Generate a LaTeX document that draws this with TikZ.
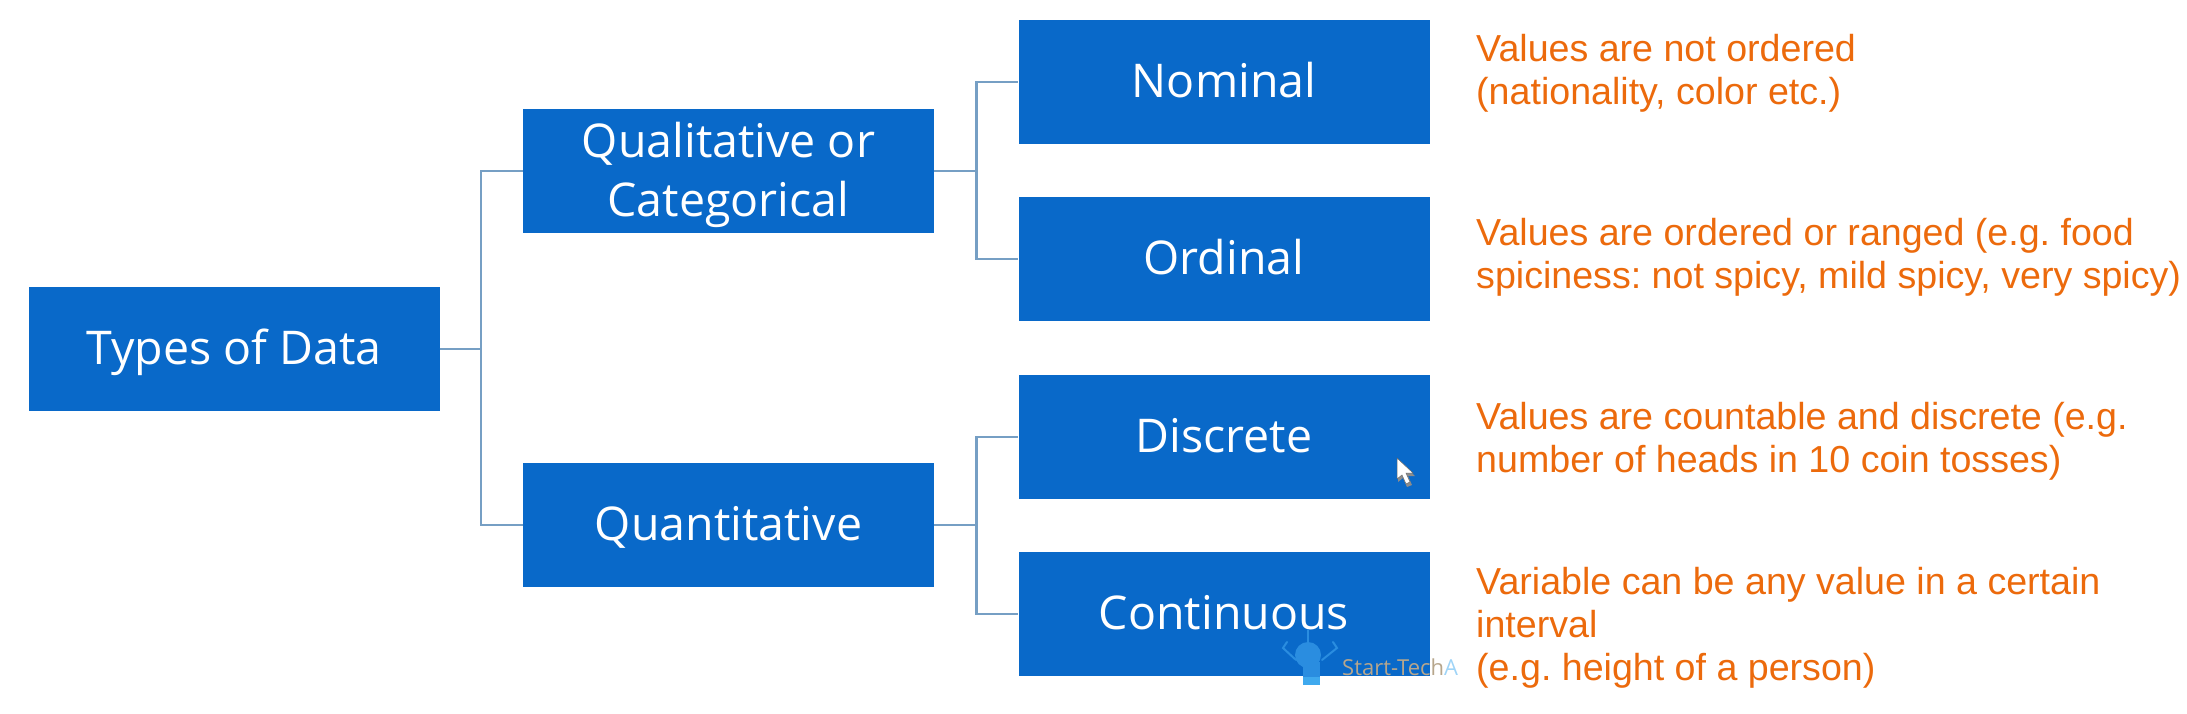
\documentclass[tikz,border=0pt]{standalone}
\usepackage{fontspec}
\setmainfont{Open Sans}
\newfontfamily\notefont{Liberation Sans}
\frenchspacing
\definecolor{boxblue}{HTML}{0969C9}
\definecolor{linkblue}{HTML}{769FC4}
\definecolor{noteorange}{HTML}{EC6A0C}
\definecolor{robothead}{HTML}{2A8DE0}
\definecolor{robotbody}{HTML}{3FA9EE}
\definecolor{marktan}{HTML}{B7A68C}
\tikzset{
  databox/.style={fill=boxblue, draw=none, inner sep=0pt, minimum width=411pt, minimum height=124pt,
    text=white, align=center, font=\fontsize{46.5}{59}\selectfont, text height=40pt, text depth=9pt},
  twolines/.style={text height=98pt, text depth=6pt},
  link/.style={draw=linkblue, line width=2.2pt},
  note/.style={anchor=north west, inner sep=0pt, align=left, text=noteorange,
    font=\notefont\fontsize{37.6}{43}\selectfont},
  antenna/.style={draw=robothead, line width=2pt, line cap=round}
}
\begin{document}
\begin{tikzpicture}[x=1pt,y=-1pt]
\useasboundingbox (0,0) rectangle (2187,714);
\node[databox] (types) at (234,349) {Types of Data};
\node[databox, twolines] (qual) at (728.5,171) {Qualitative or\\Categorical};
\node[databox] (quant) at (728.5,525) {Quantitative};
\node[databox] (nominal) at (1224,82) {Nominal};
\node[databox] (ordinal) at (1224,259) {Ordinal};
\node[databox] (discrete) at (1224,437) {Discrete};
\node[databox] (continuous) at (1224,614) {Continuous};
\coordinate (j1) at (481,349);
\coordinate (j2) at (976.5,171);
\coordinate (j3) at (976.5,525);
\draw[link] (types.east) -- (j1);
\draw[link] (j1) |- (qual.west);
\draw[link] (j1) |- (quant.west);
\draw[link] (qual.east) -- (j2);
\draw[link] (j2) |- (nominal.west);
\draw[link] (j2) |- (ordinal.west);
\draw[link] (quant.east) -- (j3);
\draw[link] (j3) |- (discrete.west);
\draw[link] (j3) |- (continuous.west);
\node[note] (n1) at (1476,34) {Values are not ordered\\(nationality, color etc.)};
\node[note] (n2) at (1476,218) {Values are ordered or ranged (e.g. food\\spiciness: not spicy, mild spicy, very spicy)};
\node[note] (n3) at (1476,402) {Values are countable and discrete (e.g.\\number of heads in 10 coin tosses)};
\node[note] (n4) at (1476,567) {Variable can be any value in a certain\\interval\\(e.g. height of a person)};
% mouse cursor
\fill[black!45] (1398,460) -- (1398,482) -- (1403,478) -- (1407,487) -- (1412,485) -- (1408,476) -- (1415,476) -- cycle;
\fill[white,draw=black!60,line width=0.5pt] (1397,458) -- (1397,479) -- (1402,475) -- (1406,484) -- (1410,482) -- (1406,473) -- (1413,473) -- cycle;
% watermark
\fill[robothead] (1308,655) circle[radius=13pt];
\fill[robothead] (1303,662) rectangle (1320,677);
\fill[robotbody] (1303,677) rectangle (1320,685);
\draw[antenna] (1308,642) -- (1308,630);
\draw[antenna] (1296,660) -- (1283,648) -- (1287,642);
\draw[antenna] (1322,660) -- (1337,648) -- (1333,642);
\begin{scope}
\clip (1338,640) rectangle (1458,690);
\node[anchor=west, inner sep=0pt, text=marktan, font=\fontsize{22}{24}\selectfont] (mark) at (1342,667) {Start-Tech\textcolor{robotbody!50}{A}};
\end{scope}
\end{tikzpicture}
\end{document}
